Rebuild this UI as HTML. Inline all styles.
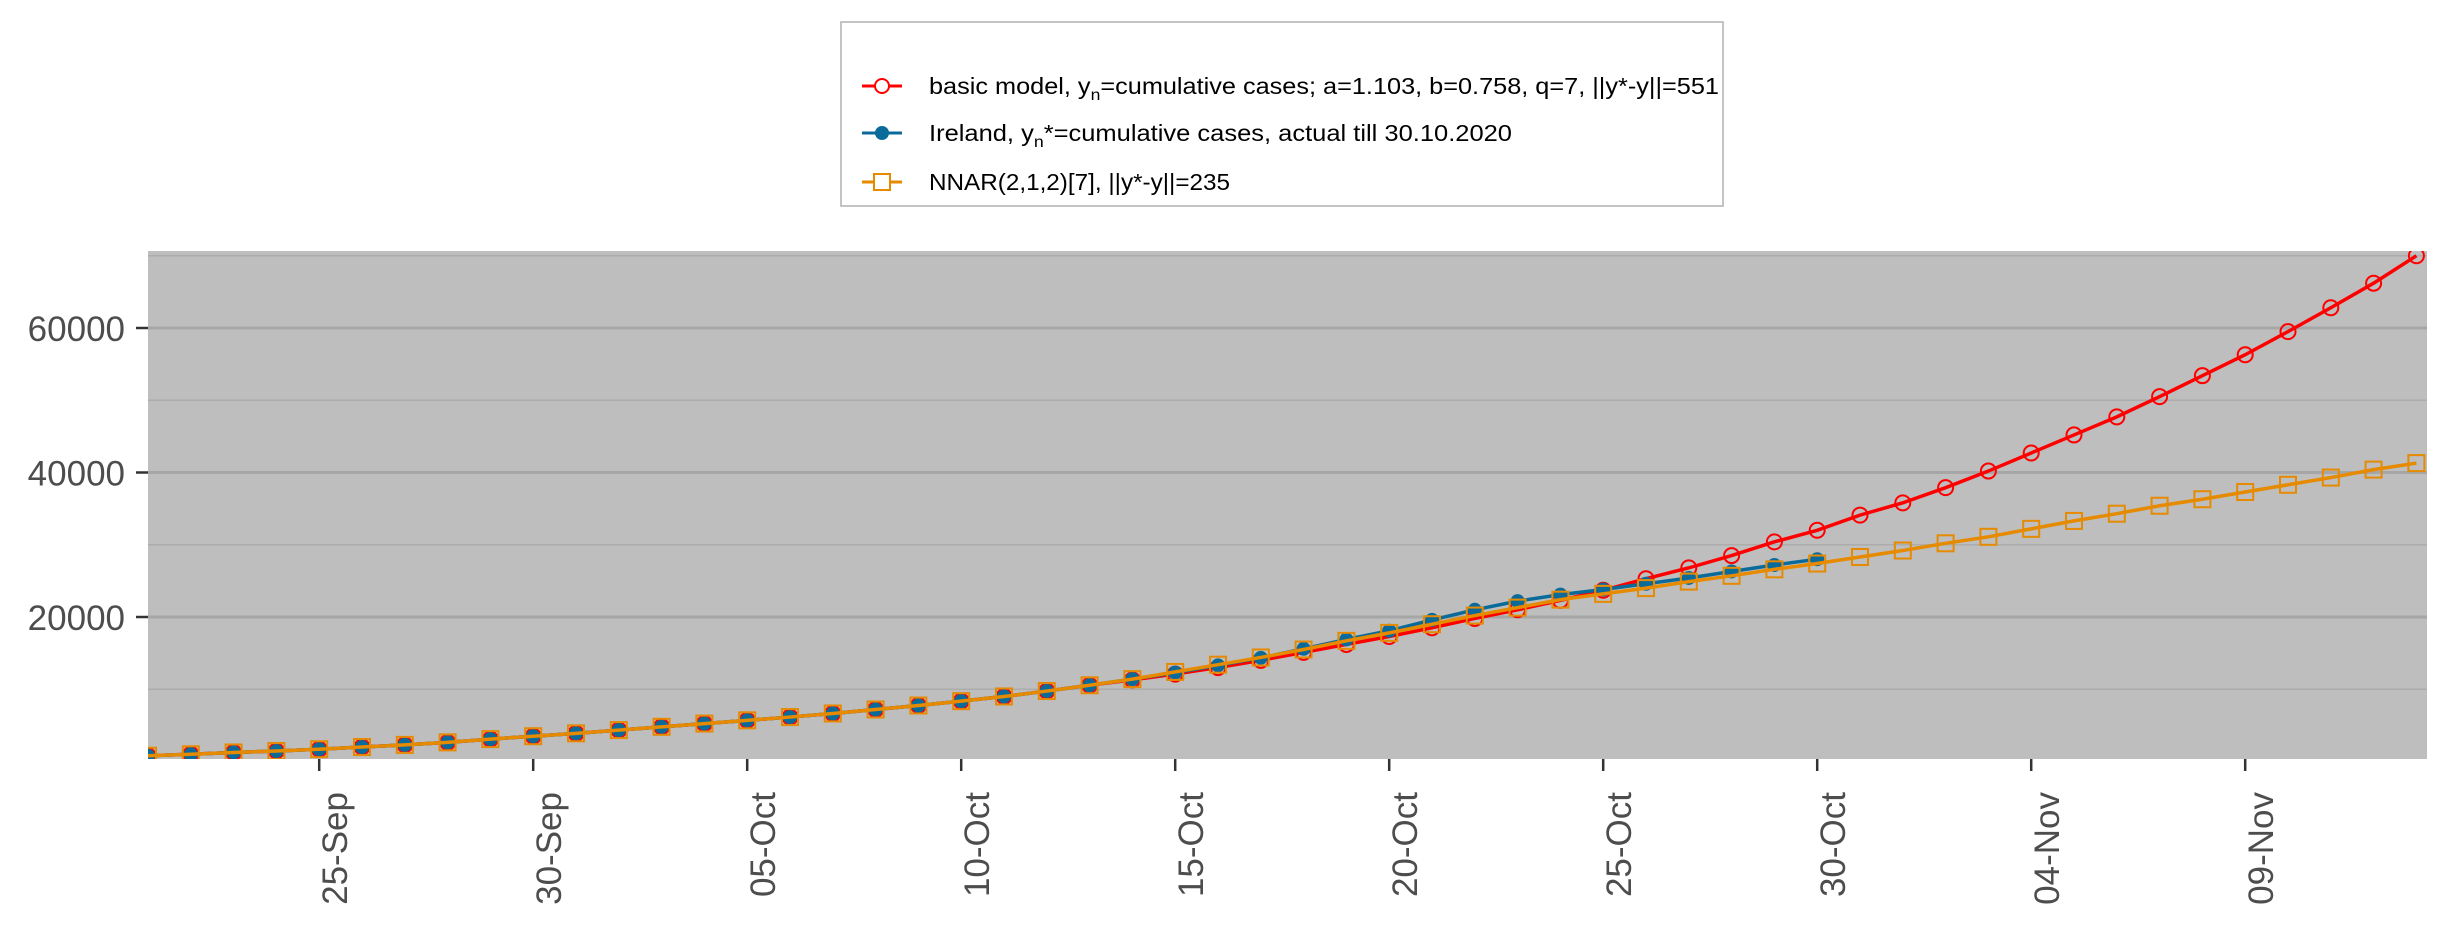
<!DOCTYPE html>
<html><head><meta charset="utf-8"><style>
html,body{margin:0;padding:0;background:#fff;}
svg{display:block;font-family:"Liberation Sans",Arial,sans-serif;}
</style></head><body>
<svg id="chart" width="2440" height="934" viewBox="0 0 2440 934" xmlns="http://www.w3.org/2000/svg">
<rect x="148" y="251" width="2279" height="508" fill="#bebebe"/>
<g id="grid"></g>
<g id="yaxis"></g>
<g id="xaxis"></g>
<defs><clipPath id="clip"><rect x="148" y="251" width="2279" height="508"/></clipPath></defs>
<g id="series" clip-path="url(#clip)"></g>
<g>
<rect x="841" y="22" width="882" height="184" fill="#fff" stroke="#b0b0b0" stroke-width="1.5"/>
<g>
<line x1="862" y1="86" x2="902" y2="86" stroke="#ff0000" stroke-width="3"/>
<circle cx="882" cy="86" r="7" fill="#fff" stroke="#ff0000" stroke-width="2"/>
<text x="929" y="94" font-size="23" fill="#000" textLength="790" lengthAdjust="spacingAndGlyphs">basic model,  y<tspan font-size="16" dy="6">n</tspan><tspan dy="-6">=cumulative cases; a=1.103, b=0.758, q=7, ||y*-y||=551</tspan></text>
</g>
<g>
<line x1="862" y1="133" x2="902" y2="133" stroke="#0a6b9a" stroke-width="3"/>
<circle cx="882" cy="133" r="7" fill="#0a6b9a"/>
<text x="929" y="141" font-size="23" fill="#000" textLength="583" lengthAdjust="spacingAndGlyphs">Ireland, y<tspan font-size="16" dy="6">n</tspan><tspan dy="-6">*=cumulative cases, actual till 30.10.2020</tspan></text>
</g>
<g>
<line x1="862" y1="182" x2="902" y2="182" stroke="#e68a00" stroke-width="3"/>
<rect x="874" y="174" width="16" height="16" fill="#fff" stroke="#e68a00" stroke-width="2"/>
<text x="929" y="190" font-size="23" fill="#000" textLength="301" lengthAdjust="spacingAndGlyphs">NNAR(2,1,2)[7], ||y*-y||=235</text>
</g>
</g>
</svg>
<script>
// index 0 = 21-Sep, ... 53 = 13-Nov
const xTickLabels = ["25-Sep","30-Sep","05-Oct","10-Oct","15-Oct","20-Oct","25-Oct","30-Oct","04-Nov","09-Nov"];
const xTickIdx = [4,9,14,19,24,29,34,39,44,49];
const yTicks = [20000,40000,60000];
const yMinor = [10000,30000,50000,70000];
const actual = [800,1000,1250,1450,1700,2000,2300,2650,3100,3500,3900,4350,4800,5250,5700,6150,6650,7200,7750,8350,9000,9750,10550,11400,12300,13300,14350,15600,16900,18100,19600,21000,22200,23100,23800,24600,25400,26300,27200,28000];
const model = [800,1000,1250,1450,1700,2000,2300,2650,3100,3500,3900,4350,4800,5250,5700,6150,6650,7200,7750,8350,9000,9750,10550,11300,12100,13000,14000,15100,16200,17300,18500,19800,21000,22300,23700,25300,26800,28500,30400,32000,34100,35800,37900,40200,42700,45200,47700,50500,53400,56300,59500,62800,66200,70000];
const nnar = [800,1000,1250,1450,1700,2000,2300,2650,3100,3500,3900,4350,4800,5250,5700,6150,6650,7200,7750,8350,9000,9750,10550,11400,12400,13400,14400,15500,16700,17800,19000,20200,21300,22400,23200,24000,24900,25700,26600,27400,28300,29200,30200,31100,32200,33300,34300,35400,36300,37300,38300,39300,40400,41300];

const NS="http://www.w3.org/2000/svg";
const X0=148, X1=2427;
const xs = i => 148 + i*42.8;
const ys = v => 761.5 - v*144.5/20000;
function mk(tag, attrs, parent){const e=document.createElementNS(NS,tag);for(const k in attrs)e.setAttribute(k,attrs[k]);parent.appendChild(e);return e;}
const grid=document.getElementById('grid'), ya=document.getElementById('yaxis'), xa=document.getElementById('xaxis'), ser=document.getElementById('series');
yMinor.forEach(v=>{const l=mk('line',{x1:X0,x2:X1,y1:ys(v),y2:ys(v),stroke:'#acacac','stroke-width':1.5},grid);

});
yTicks.forEach(v=>{const l=mk('line',{x1:X0,x2:X1,y1:ys(v),y2:ys(v),stroke:'#a6a6a6','stroke-width':3},grid);


const t=mk('line',{x1:136,x2:148,y1:ys(v),y2:ys(v),stroke:'#333','stroke-width':2.5},ya);


const tx=mk('text',{x:125,y:ys(v)+13,'text-anchor':'end','font-size':35,fill:'#4d4d4d'},ya);


tx.textContent=v;});
xTickIdx.forEach((i,k)=>{const x=xs(i);
const t=mk('line',{x1:x,x2:x,y1:759,y2:771,stroke:'#333','stroke-width':2.5},xa);


const tx=mk('text',{x:0,y:0,'text-anchor':'end','font-size':35,fill:'#4d4d4d',transform:`translate(${x+28},${792}) rotate(-90)`},xa);


tx.textContent=xTickLabels[k];});
function line(arr,color,name){const p=mk('polyline',{points:arr.map((v,i)=>xs(i)+','+ys(v)).join(' '),fill:'none',stroke:color,'stroke-width':3.5},ser);

}
line(model,'#ff0000','model-line');
model.forEach((v,i)=>{const c=mk('circle',{cx:xs(i),cy:ys(v),r:7.5,fill:'none',stroke:'#ff0000','stroke-width':2},ser);

});
line(actual,'#0a6b9a','actual-line');
actual.forEach((v,i)=>{const c=mk('circle',{cx:xs(i),cy:ys(v),r:7,fill:'#0a6b9a'},ser);

});
line(nnar,'#e68a00','nnar-line');
nnar.forEach((v,i)=>{const r=mk('rect',{x:xs(i)-8,y:ys(v)-8,width:16,height:16,fill:'none',stroke:'#e68a00','stroke-width':2},ser);

});
</script>
</body></html>
